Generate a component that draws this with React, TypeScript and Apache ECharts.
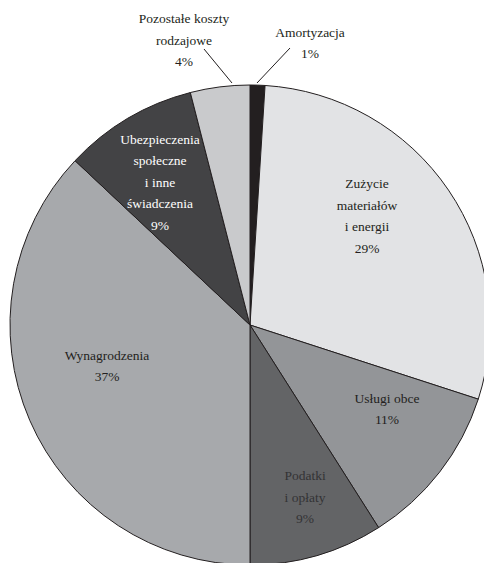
import React, { useEffect, useRef } from "react";
import * as echarts from "echarts";

const categories = [
  "Amortyzacja",
  "Zużycie\nmateriałów\ni energii",
  "Usługi obce",
  "Podatki\ni opłaty",
  "Wynagrodzenia",
  "Ubezpieczenia\nspołeczne\ni inne\nświadczenia",
  "Pozostałe koszty\nrodzajowe",
];
const values = [1, 29, 11, 9, 37, 9, 4];

const sliceColors = ["#231f20", "#e2e3e5", "#939598", "#636466", "#a7a9ac", "#434345", "#c9cacc"];
const textColors = ["#231f20", "#231f20", "#231f20", "#333335", "#231f20", "#ffffff", "#231f20"];
// label centres (x, y) in px
const labelCenters: number[][] = [
  [310, 43],
  [367, 216],
  [387, 409],
  [305, 497],
  [107, 366],
  [160, 182],
  [184, 40],
];
// leader lines for outside labels: [start, end]
const leaderLines: Record<number, number[][]> = {
  0: [[257, 83], [290, 48]],
  6: [[232, 83], [204, 49]],
};

export default function App() {
  const ref = useRef<HTMLDivElement>(null);
  useEffect(() => {
    document.body.style.margin = "0";
    const chart = echarts.init(ref.current!, null, { renderer: "svg" });
    const outside = new Set([0, 6]);
    chart.setOption({
      animation: false,
      backgroundColor: "#ffffff",
      series: [
        {
          type: "pie",
          center: [250, 325],
          radius: [0, 240],
          startAngle: 90,
          clockwise: true,
          avoidLabelOverlap: false,
          itemStyle: { borderColor: "#231f20", borderWidth: 1 },
          label: {
            show: true,
            position: "inside",
            fontFamily: "'Times New Roman', 'Liberation Serif', serif",
            fontSize: 13.5,
            lineHeight: 21.5,
            align: "center",
            formatter: (p: any) => `${p.name}\n${p.value}%`,
          },
          labelLine: { show: false },
          labelLayout: (p: any) => {
            const i = p.dataIndex;
            const res: any = {
              x: labelCenters[i][0],
              y: labelCenters[i][1],
              align: "center",
              verticalAlign: "middle",
            };
            if (leaderLines[i]) res.labelLinePoints = leaderLines[i];
            return res;
          },
          data: values.map((v, i) => ({
            name: categories[i],
            value: v,
            itemStyle: { color: sliceColors[i] },
            label: {
              color: textColors[i],
              position: outside.has(i) ? "outside" : "inside",
            },
            labelLine: outside.has(i)
              ? { show: true, length: 20, length2: 0, lineStyle: { color: "#231f20", width: 1 } }
              : { show: false },
          })),
        },
      ],
    });
    return () => chart.dispose();
  }, []);
  return <div ref={ref} style={{ width: 484, height: 563 }} />;
}
